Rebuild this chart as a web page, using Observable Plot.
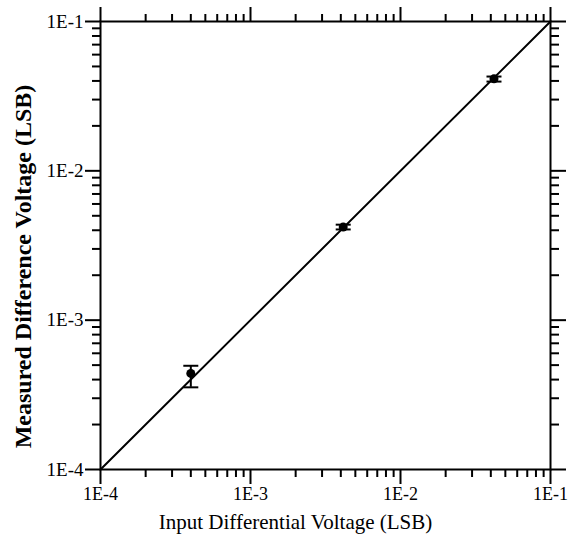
<!DOCTYPE html>
<html>
<head>
<meta charset="utf-8">
<script src="https://cdn.jsdelivr.net/npm/d3@7"></script>
<script src="https://cdn.jsdelivr.net/npm/@observablehq/plot@0.6"></script>
<style>
  html, body { margin: 0; padding: 0; background: #fff; }
  svg { display: block; }
</style>
</head>
<body>
<div id="chart"></div>
<script>
// Measured points (input differential voltage vs. measured difference voltage, LSB)
const xValues = [4.0e-4, 4.15e-3, 4.2e-2];
const yValues = [4.4e-4, 4.2e-3, 4.13e-2];
const yLow    = [3.55e-4, 4.05e-3, 3.96e-2];
const yHigh   = [4.95e-4, 4.36e-3, 4.28e-2];

// Ideal line y = x
const fitX = [1e-4, 1e-1];
const fitY = [1e-4, 1e-1];

// Axis ticks
const majorTicks = [1e-4, 1e-3, 1e-2, 1e-1];
const majorLabels = ["1E-4", "1E-3", "1E-2", "1E-1"];
const minorTicks = [
  2e-4, 3e-4, 4e-4, 5e-4, 6e-4, 7e-4, 8e-4, 9e-4,
  2e-3, 3e-3, 4e-3, 5e-3, 6e-3, 7e-3, 8e-3, 9e-3,
  2e-2, 3e-2, 4e-2, 5e-2, 6e-2, 7e-2, 8e-2, 9e-2
];

const xTitle = "Input Differential Voltage (LSB)";
const yTitle = "Measured Difference Voltage (LSB)";

const points = xValues.map((x, i) => ({x, y: yValues[i], lo: yLow[i], hi: yHigh[i]}));
const fit = fitX.map((x, i) => ({x, y: fitY[i]}));

const capSymbol = {
  draw(ctx) { ctx.moveTo(-7.5, 0); ctx.lineTo(7.5, 0); }
};

const labelOf = d => majorLabels[majorTicks.indexOf(d)];
const blank = () => "";

const chart = Plot.plot({
  width: 568,
  height: 543,
  marginLeft: 100,
  marginRight: 18,
  marginTop: 21,
  marginBottom: 74,
  style: {fontFamily: "'Liberation Serif', 'Times New Roman', serif", fontSize: "18px", color: "black", background: "white"},
  x: {type: "log", domain: [1e-4, 1e-1]},
  y: {type: "log", domain: [1e-4, 1e-1]},
  marks: [
    // minor ticks
    Plot.axisX(minorTicks, {anchor: "bottom", tickSize: 8, tickFormat: blank, strokeWidth: 2, label: null}),
    Plot.axisX(minorTicks, {anchor: "top", tickSize: 8, tickFormat: blank, strokeWidth: 2, label: null}),
    Plot.axisY(minorTicks, {anchor: "left", tickSize: 8, tickFormat: blank, strokeWidth: 2, label: null}),
    Plot.axisY(minorTicks, {anchor: "right", tickSize: 8, tickFormat: blank, strokeWidth: 2, label: null}),
    // major ticks
    Plot.axisX(majorTicks, {anchor: "bottom", tickSize: 15, tickPadding: 3, tickFormat: labelOf, strokeWidth: 2, fontSize: 18, label: null}),
    Plot.axisX(majorTicks, {anchor: "top", tickSize: 15, tickFormat: blank, strokeWidth: 2, label: null}),
    Plot.axisY(majorTicks, {anchor: "left", tickSize: 15, tickPadding: 2, tickFormat: labelOf, strokeWidth: 2, fontSize: 19, label: null}),
    Plot.axisY(majorTicks, {anchor: "right", tickSize: 15, tickFormat: blank, strokeWidth: 2, label: null}),
    Plot.frame({stroke: "black", strokeWidth: 2}),
    // ideal line
    Plot.line(fit, {x: "x", y: "y", stroke: "black", strokeWidth: 2}),
    // error bars
    Plot.ruleX(points, {x: "x", y1: "lo", y2: "hi", stroke: "black", strokeWidth: 2}),
    Plot.dot(points, {x: "x", y: "lo", symbol: capSymbol, stroke: "black", strokeWidth: 2, fill: "none"}),
    Plot.dot(points, {x: "x", y: "hi", symbol: capSymbol, stroke: "black", strokeWidth: 2, fill: "none"}),
    Plot.dot(points, {x: "x", y: "y", r: 4.5, fill: "black", stroke: "none"}),
    // titles
    Plot.text([xTitle], {text: d => d, frameAnchor: "bottom", textAnchor: "middle", lineAnchor: "middle", dx: -30, dy: 53, fontSize: 21, fill: "black"}),
    Plot.text([yTitle], {text: d => d, frameAnchor: "left", textAnchor: "middle", lineAnchor: "middle", dx: -77, dy: 21, rotate: -90, fontSize: 24, fontWeight: "bold", fill: "black"})
  ]
});

document.getElementById("chart").appendChild(chart);
</script>
</body>
</html>
